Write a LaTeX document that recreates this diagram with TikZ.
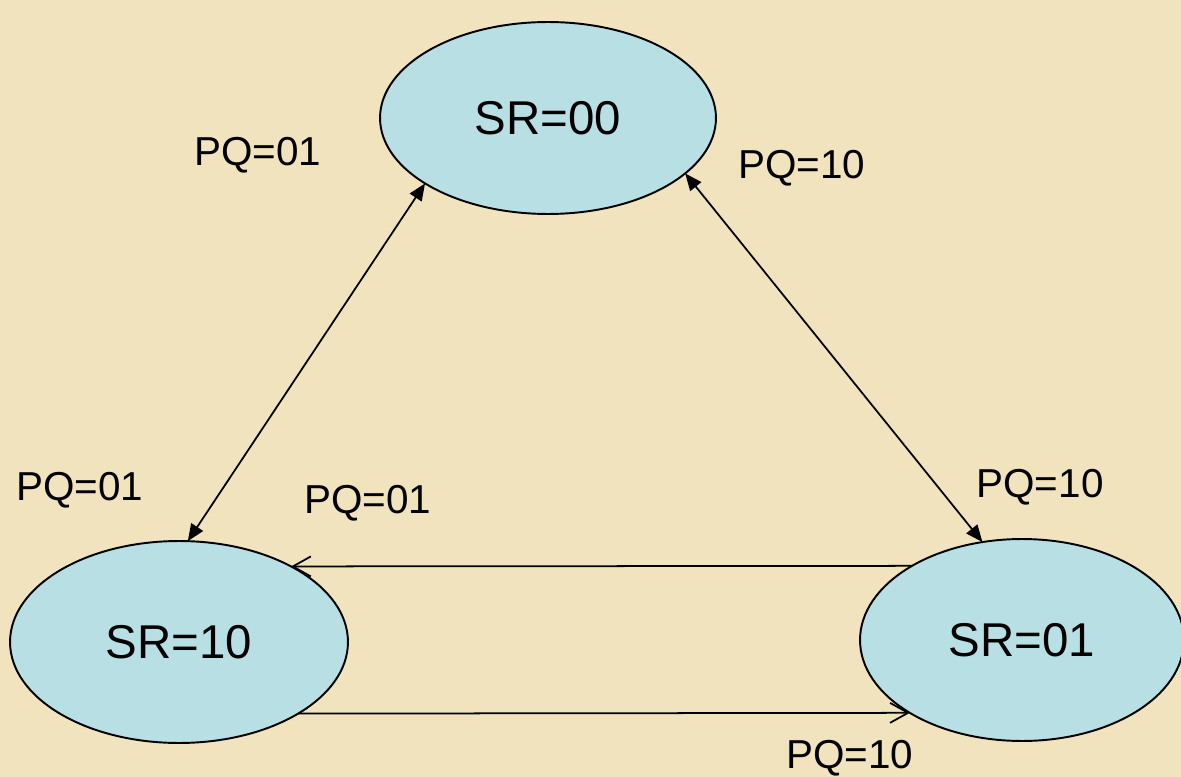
\documentclass[tikz,border=0pt]{standalone}
\usepackage{fontspec}
\setmainfont{Liberation Sans}
\usetikzlibrary{shapes.geometric,arrows.meta}
\definecolor{parchment}{RGB}{241,227,190}
\definecolor{statefill}{RGB}{184,223,228}
\begin{document}
\begin{tikzpicture}[x=0.02cm,y=-0.02cm,
  state/.style={ellipse,draw=black,line width=1.1pt,fill=statefill,
    inner sep=0pt,outer sep=0pt,font=\fontsize{27}{32}\selectfont},
  lbl/.style={font=\fontsize{23}{28}\selectfont,inner sep=0pt},
  both/.style={line width=1pt,{Triangle[length=0.34cm,width=0.28cm]}-{Triangle[length=0.34cm,width=0.28cm]}},
  one/.style={line width=1pt,-{Straight Barb[length=0.36cm,width=0.4cm]}}]
  % page and clipping frame
  \fill[parchment] (0,0) rectangle (1181,777);
  \useasboundingbox (0,0) rectangle (1181,777);
  \clip (0,0) rectangle (1181,777);

  % states
  \node[state,minimum width=6.72cm,minimum height=3.84cm] (s00) at (548,118) {SR=00};
  \node[state,minimum width=6.76cm,minimum height=4.04cm] (s10) at (179,642) {SR=10};
  \node[state,minimum width=6.48cm,minimum height=4.04cm] (s01) at (1022,640) {SR=01};

  % transitions
  \draw[both] (s00.208.8) -- (s10.85.2);
  \draw[both] (s00.338.6) -- (s01.112.3);
  \draw[one] (s01.146.1) -- (s10.34.3);
  \draw[one] (s10.329.4) -- (s01.213.1);

  % labels
  \node[lbl] (l1) at (258,155) {PQ=01};
  \node[lbl] (l2) at (802,168) {PQ=10};
  \node[lbl] (l3) at (80,490) {PQ=01};
  \node[lbl] (l4) at (368,503) {PQ=01};
  \node[lbl] (l5) at (1040,487) {PQ=10};
  \node[lbl] (l6) at (850,758) {PQ=10};
\end{tikzpicture}
\end{document}
